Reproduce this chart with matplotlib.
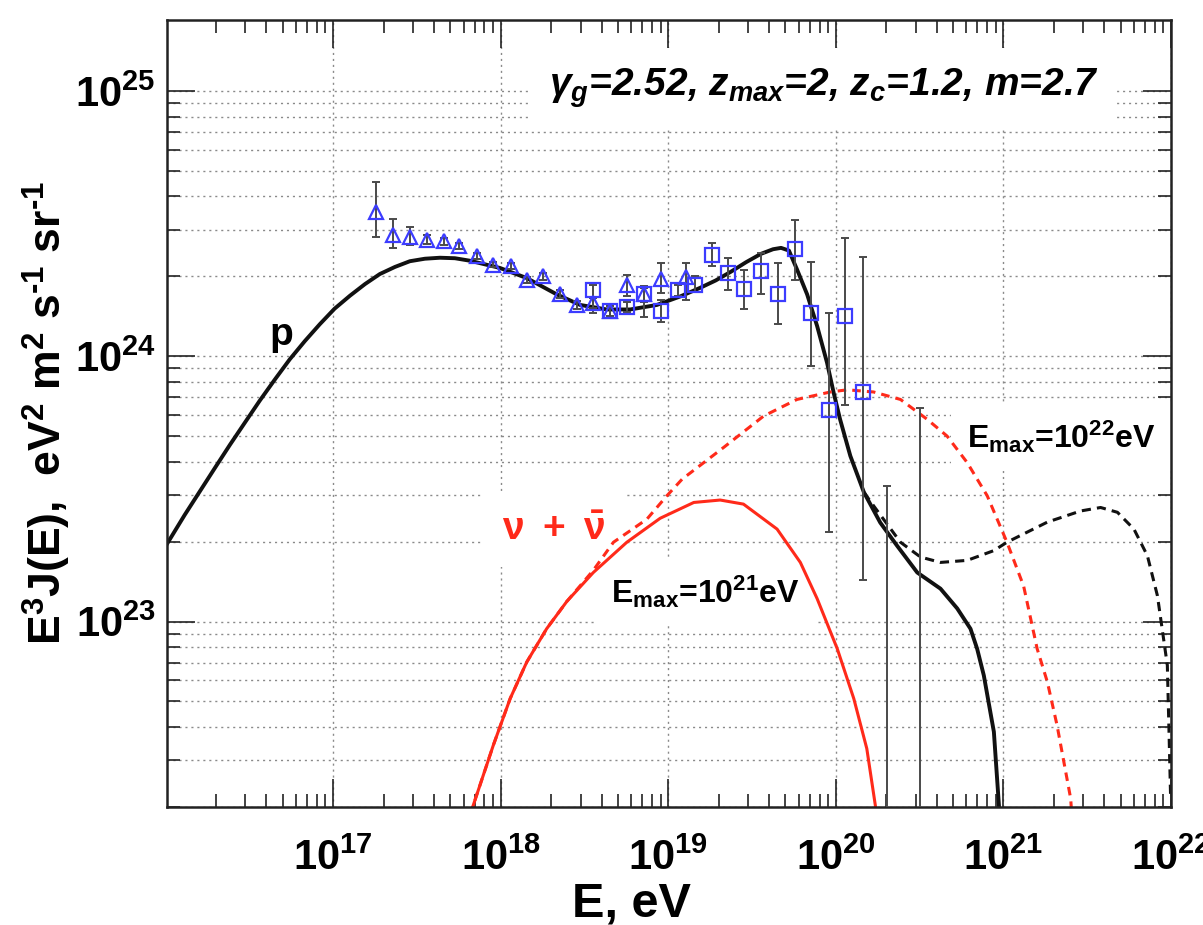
import matplotlib.pyplot as plt
import numpy as np
from matplotlib.ticker import NullFormatter

plt.rcParams['font.family'] = ['Liberation Sans', 'DejaVu Sans']
plt.rcParams['font.weight'] = 'bold'
plt.rcParams['mathtext.fontset'] = 'custom'
plt.rcParams['mathtext.default'] = 'regular'
plt.rcParams['mathtext.rm'] = 'Liberation Sans:bold'
plt.rcParams['mathtext.it'] = 'Liberation Sans:bold:italic'
plt.rcParams['mathtext.bf'] = 'Liberation Sans:bold'

x_major = [1e17, 1e18, 1e19, 1e20, 1e21, 1e22]

# protons, E_max = 1e21 eV (solid)
p_E = [1.02e16, 1.30e16, 1.60e16, 1.97e16, 2.42e16, 2.97e16, 3.65e16, 4.48e16,
       5.51e16, 6.78e16, 8.33e16, 1.02e17, 1.26e17, 1.55e17, 1.90e17, 2.34e17,
       2.87e17, 3.53e17, 4.34e17, 5.33e17, 6.55e17, 9.91e17, 1.43e18, 2.16e18,
       2.98e18, 4.30e18, 5.92e18, 8.55e18, 1.18e19, 1.55e19, 1.92e19, 2.36e19,
       2.91e19, 3.57e19, 4.22e19, 4.71e19, 5.25e19, 5.87e19, 6.74e19, 7.73e19,
       8.86e19, 9.70e19, 1.06e20, 1.22e20, 1.47e20, 1.84e20, 2.32e20, 3.06e20,
       4.21e20, 5.30e20, 6.36e20, 6.97e20, 7.64e20, 8.77e20, 9.40e20, 9.55e20]
p_F = [1.96e23, 2.52e23, 3.09e23, 3.79e23, 4.63e23, 5.61e23, 6.80e23, 8.15e23,
       9.73e23, 1.14e24, 1.32e24, 1.51e24, 1.69e24, 1.87e24, 2.04e24, 2.17e24,
       2.28e24, 2.33e24, 2.35e24, 2.34e24, 2.29e24, 2.15e24, 1.97e24, 1.71e24,
       1.56e24, 1.50e24, 1.50e24, 1.56e24, 1.68e24, 1.81e24, 1.93e24, 2.08e24,
       2.26e24, 2.43e24, 2.53e24, 2.56e24, 2.50e24, 2.12e24, 1.71e24, 1.30e24,
       9.45e23, 7.29e23, 5.78e23, 4.21e23, 3.07e23, 2.36e23, 1.93e23, 1.53e23,
       1.33e23, 1.12e23, 9.39e22, 7.89e22, 6.26e22, 3.84e22, 2.03e22, 1.66e22]

# protons, E_max = 1e22 eV (dashed branch)
p22_E = [1.47e20, 1.68e20, 2.43e20, 3.20e20, 4.21e20, 6.08e20, 8.76e20, 1.05e21,
         1.83e21, 2.89e21, 3.80e21, 4.79e21, 6.01e21, 7.23e21, 8.30e21, 9.51e21,
         9.73e21, 9.95e21]
p22_F = [3.07e23, 2.73e23, 1.99e23, 1.75e23, 1.67e23, 1.70e23, 1.85e23, 1.99e23,
         2.37e23, 2.61e23, 2.69e23, 2.58e23, 2.23e23, 1.77e23, 1.25e23, 6.84e22,
         3.85e22, 2.15e22]

# neutrinos, E_max = 1e21 eV
nu_E = [6.21e17, 6.86e17, 9.04e17, 1.14e18, 1.43e18, 1.88e18, 2.48e18, 3.57e18,
        5.66e18, 8.95e18, 1.42e19, 2.04e19, 2.81e19, 4.46e19, 6.14e19, 7.73e19,
        1.02e20, 1.28e20, 1.53e20, 1.72e20, 1.79e20]
nu_F = [1.66e22, 2.03e22, 3.42e22, 5.13e22, 7.03e22, 9.39e22, 1.19e23, 1.53e23,
        1.99e23, 2.45e23, 2.81e23, 2.87e23, 2.77e23, 2.23e23, 1.67e23, 1.22e23,
        7.89e22, 5.12e22, 3.32e22, 2.03e22, 1.66e22]

# neutrinos, E_max = 1e22 eV
nu22_E = [6.21e17, 6.86e17, 9.04e17, 1.14e18, 1.43e18, 1.88e18, 2.48e18, 3.57e18,
          4.71e18, 7.45e18, 9.82e18, 1.21e19, 2.14e19, 3.71e19, 5.86e19, 9.27e19,
          1.17e20, 1.68e20, 2.43e20, 3.51e20, 4.61e20, 6.08e20, 8.00e20, 1.05e21,
          1.32e21, 1.59e21, 1.83e21, 2.09e21, 2.52e21, 2.59e21]
nu22_F = [1.66e22, 2.03e22, 3.42e22, 5.13e22, 7.03e22, 9.39e22, 1.19e23, 1.56e23,
          1.99e23, 2.43e23, 2.98e23, 3.44e23, 4.53e23, 5.95e23, 6.87e23, 7.33e23,
          7.47e23, 7.33e23, 6.87e23, 5.78e23, 5.00e23, 3.97e23, 2.98e23, 1.99e23,
          1.36e23, 7.89e22, 5.91e22, 4.06e22, 2.15e22, 1.66e22]

# measured spectrum, triangles
tri_E = [1.80e17, 2.27e17, 2.87e17, 3.61e17, 4.58e17, 5.66e17, 7.19e17, 9.04e17,
         1.15e18, 1.43e18, 1.80e18, 2.26e18, 2.87e18, 3.57e18, 4.50e18, 5.69e18,
         7.18e18, 9.04e18, 1.28e19]
tri_F = [3.51e24, 2.87e24, 2.81e24, 2.75e24, 2.71e24, 2.61e24, 2.38e24, 2.21e24,
         2.19e24, 1.94e24, 2.00e24, 1.71e24, 1.56e24, 1.58e24, 1.48e24, 1.85e24,
         1.72e24, 1.95e24, 1.99e24]
tri_lo = [2.82e24, 2.56e24, 2.63e24, 2.65e24, 2.63e24, 2.54e24, 2.32e24, 2.16e24,
          2.14e24, 1.89e24, 1.94e24, 1.66e24, 1.51e24, 1.52e24, 1.40e24, 1.68e24,
          1.60e24, 1.73e24, 1.63e24]
tri_hi = [4.55e24, 3.29e24, 3.08e24, 2.86e24, 2.80e24, 2.68e24, 2.44e24, 2.26e24,
          2.25e24, 1.99e24, 2.06e24, 1.77e24, 1.62e24, 1.65e24, 1.56e24, 2.03e24,
          1.84e24, 2.24e24, 2.25e24]

# measured spectrum, squares
sq_E = [3.57e18, 4.50e18, 5.69e18, 7.18e18, 9.04e18, 1.14e19, 1.45e19, 1.82e19,
        2.27e19, 2.85e19, 3.59e19, 4.52e19, 5.73e19, 7.14e19, 9.06e19, 1.14e20,
        1.45e20]
sq_F = [1.77e24, 1.48e24, 1.53e24, 1.72e24, 1.48e24, 1.77e24, 1.86e24, 2.41e24,
        2.05e24, 1.79e24, 2.10e24, 1.72e24, 2.53e24, 1.46e24, 6.28e23, 1.42e24,
        7.30e23]
sq_lo = [1.46e24, 1.42e24, 1.47e24, 1.41e24, 1.35e24, 1.69e24, 1.74e24, 2.18e24,
         1.78e24, 1.51e24, 1.72e24, 1.32e24, 1.94e24, 9.17e23, 2.17e23, 6.55e23,
         1.43e23]
sq_hi = [1.86e24, 1.55e24, 1.60e24, 1.81e24, 1.63e24, 1.86e24, 2.00e24, 2.67e24,
         2.34e24, 2.12e24, 2.45e24, 2.24e24, 3.26e24, 2.26e24, 1.46e24, 2.79e24,
         2.36e24]

# highest-energy bins: central value below the frame, only the upper bar shows
ul_E = [2.02e20, 3.20e20]
ul_F = [1.0e22, 1.0e22]
ul_hi = [3.24e23, 6.40e23]

RED = '#ff2a1a'
BLUE = '#3c3cff'
ERR = '#4a4a4a'

fig = plt.figure(figsize=(12.03, 9.25), dpi=100)
ax = fig.add_axes([0.1388, 0.1276, 0.8346, 0.8508])
ax.set_xscale('log')
ax.set_yscale('log')

ax.plot(p_E, p_F, color='#111111', lw=2.8, zorder=2)
ax.plot(p22_E, p22_F, color='#111111', lw=2.2, ls=(0, (3.0, 2.0)), zorder=2)
ax.plot(nu_E, nu_F, color=RED, lw=2.2, zorder=2)
ax.plot(nu22_E, nu22_F, color=RED, lw=2.2, ls=(0, (2.8, 2.0)), zorder=2)

tri_F = np.array(tri_F)
sq_F = np.array(sq_F)
err_kw = dict(fmt='none', ecolor=ERR, elinewidth=1.4, capsize=3, capthick=1.4, zorder=3)
ax.errorbar(tri_E, tri_F, yerr=[tri_F - np.array(tri_lo), np.array(tri_hi) - tri_F], **err_kw)
ax.errorbar(sq_E, sq_F, yerr=[sq_F - np.array(sq_lo), np.array(sq_hi) - sq_F], **err_kw)
ax.errorbar(ul_E, ul_F, yerr=[np.zeros(2), np.array(ul_hi) - np.array(ul_F)], **err_kw)
ax.plot(tri_E, tri_F, ls='none', marker='^', ms=9.5, mfc='none', mec=BLUE, mew=1.6, zorder=4)
ax.plot(sq_E, sq_F, ls='none', marker='s', ms=10, mfc='none', mec=BLUE, mew=1.6, zorder=4)

ax.set_xticks(x_major)
ax.set_xlim(1.02e16, 1e22)
ax.set_ylim(2e22, 1.85e25)

# grid and ticks
grid_kw = dict(color='#8a8a8a', lw=1.0, ls=(0, (1.5, 2.8)))
ax.grid(True, which='major', axis='x', **grid_kw)
ax.grid(True, which='both', axis='y', **grid_kw)
ax.set_axisbelow(True)
ax.tick_params(which='both', direction='in', top=True, right=True, width=1.2, color='#222222')
ax.tick_params(which='major', length=20, labelsize=30)
ax.tick_params(which='minor', length=9.5)
ax.tick_params(axis='x', which='major', pad=23)
ax.tick_params(axis='y', which='major', pad=8)
ax.xaxis.set_minor_formatter(NullFormatter())
ax.yaxis.set_minor_formatter(NullFormatter())
for s in ax.spines.values():
    s.set_linewidth(1.8)
    s.set_color('#222222')

# labels; white boxes mask the grid behind them
box = dict(boxstyle='square,pad=0.5', facecolor='white', edgecolor='none')
ax.text(0.654, 0.914, r'γ$_g$=2.52, z$_{max}$=2, z$_c$=1.2, m=2.7', transform=ax.transAxes,
        fontsize=28, fontstyle='italic', ha='center', va='center',
        bbox=dict(boxstyle='square,pad=0.45', facecolor='white', edgecolor='none'),
        zorder=1.5)
ax.text(0.1135, 0.600, 'p', transform=ax.transAxes, fontsize=28, ha='center', va='center')
ax.text(0.3855, 0.352, r'$\nu\ +\ \bar{\nu}$', transform=ax.transAxes, color=RED,
        fontsize=28, ha='center', va='center', bbox=box, zorder=1.5)
ax.text(0.536, 0.273, r'E$_{max}$=10$^{21}$eV', transform=ax.transAxes,
        fontsize=23, ha='center', va='center', bbox=box, zorder=1.5)
ax.text(0.891, 0.470, r'E$_{max}$=10$^{22}$eV', transform=ax.transAxes,
        fontsize=23, ha='center', va='center', bbox=box, zorder=1.5)

fig.text(47 / 1203, 1 - 413 / 925,
         r'E$^3$J(E),  eV$^2$ m$^2$ s$^{\text{-1}}$ sr$^{\text{-1}}$',
         rotation=90, fontsize=32, ha='center', va='center')
fig.text(631 / 1203, 1 - 916 / 925, 'E, eV', fontsize=35, ha='center', va='baseline')

fig.savefig('out.png', dpi=100)
